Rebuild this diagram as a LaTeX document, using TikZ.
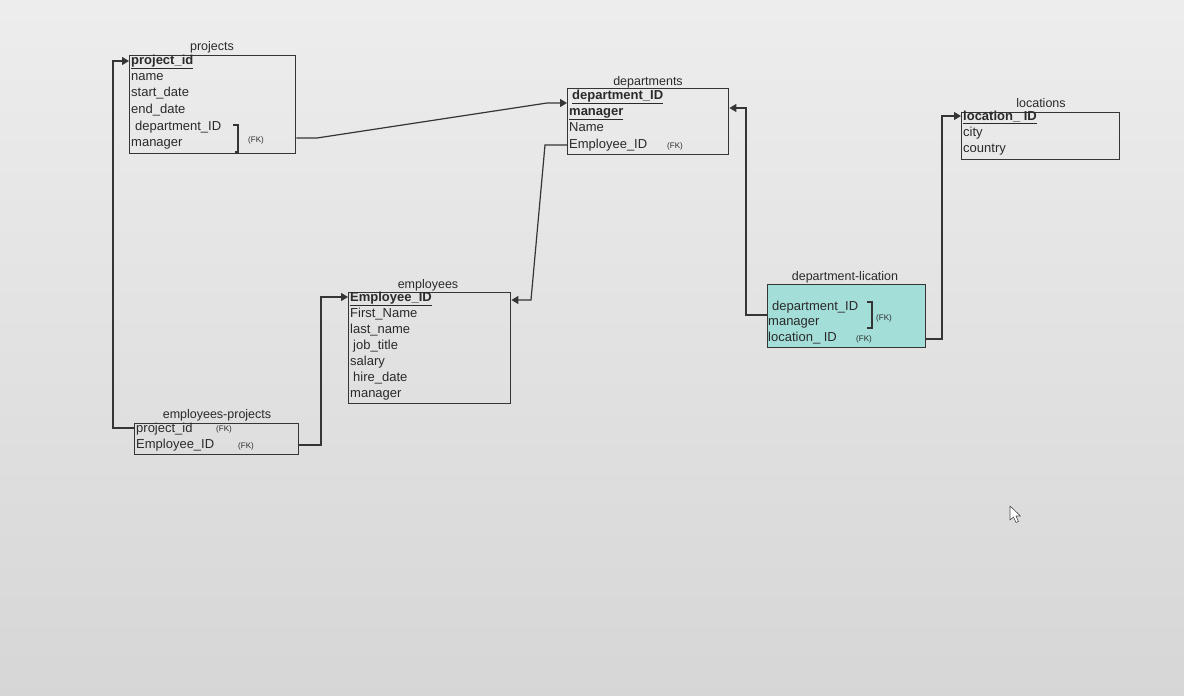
\documentclass[tikz,border=0pt]{standalone}
\usepackage{fontspec}
\setmainfont{Liberation Sans}
\usetikzlibrary{arrows.meta,calc}
\definecolor{ink}{HTML}{2A2A2A}
\definecolor{lineink}{HTML}{353535}
\definecolor{cyanfill}{HTML}{A3DED8}
\tikzset{
  tbl/.style={draw=lineink, line width=1.4pt, anchor=north west, inner sep=0pt},
  ttl/.style={text=ink, inner sep=0pt, font=\fontsize{12.5}{14}\selectfont},
  row/.style={anchor=west, inner sep=0pt, text=ink, text height=9pt, text depth=3pt, font=\fontsize{13}{16}\selectfont},
  fk/.style={anchor=west, inner sep=0pt, text=ink, font=\fontsize{8}{9}\selectfont},
  conn/.style={draw=lineink, line width=1.2pt},
  arr/.style={conn, -{Triangle[length=7pt,width=8pt]}},
  brk/.style={draw=lineink, line width=1.2pt},
}
\newcommand{\pk}[1]{\underline{\textbf{#1}}}
\begin{document}
\begin{tikzpicture}[x=1pt,y=-1pt]
\path[use as bounding box] (0,0) rectangle (1184,696);
\shade[top color=white!93!black, bottom color=white!84!black] (0,0) rectangle (1184,696);

% ---------- projects ----------
\node[tbl, minimum width=166pt, minimum height=98pt] (projects) at (129,55) {};
\node[ttl] (projectsT) at (212,47) {projects};
\node[row] (pPid) at (131,61) {\pk{project\_id}};
\node[row] (pName) at (131,77) {name};
\node[row] (pStart) at (131,93) {start\_date};
\node[row] (pEnd) at (131,110) {end\_date};
\node[row] (pDept) at (135,127) {department\_ID};
\node[row] (pMgr) at (131,143) {manager};
\draw[brk] (233,125) -- (238,125) -- (238,152) -- (235,152);
\node[fk] (pFK) at (248,140) {(FK)};

% ---------- departments ----------
\node[tbl, minimum width=161pt, minimum height=66pt] (departments) at (567,88) {};
\node[ttl] (departmentsT) at (648,82) {departments};
\node[row] (dId) at (572,96) {\pk{department\_ID}};
\node[row] (dMgr) at (569,112) {\pk{manager}};
\node[row] (dName) at (569,128) {Name};
\node[row] (dEmp) at (569,145) {Employee\_ID};
\node[fk] (dFK) at (667,146) {(FK)};

% ---------- locations ----------
\node[tbl, minimum width=158pt, minimum height=47pt] (locations) at (961,112) {};
\node[ttl] (locationsT) at (1041,103) {locations};
\node[row] (lId) at (963,117) {\pk{location\_ ID}};
\node[row] (lCity) at (963,133) {city};
\node[row] (lCountry) at (963,149) {country};

% ---------- department-lication ----------
\node[tbl, fill=cyanfill, minimum width=158pt, minimum height=63pt] (deploc) at (767,284) {};
\node[ttl] (deplocT) at (845,277) {department-lication};
\node[row] (dlDept) at (772,307) {department\_ID};
\node[row] (dlMgr) at (768,322) {manager};
\node[row] (dlLoc) at (768,338) {location\_ ID};
\draw[brk] (867,302) -- (872,302) -- (872,328) -- (867,328);
\node[fk] (dlFK1) at (876,318) {(FK)};
\node[fk] (dlFK2) at (856,339) {(FK)};

% ---------- employees ----------
\node[tbl, minimum width=162pt, minimum height=111pt] (employees) at (348,292) {};
\node[ttl] (employeesT) at (428,285) {employees};
\node[row] (eId) at (350,298) {\pk{Employee\_ID}};
\node[row] (eFirst) at (350,314) {First\_Name};
\node[row] (eLast) at (350,330) {last\_name};
\node[row] (eJob) at (353,346) {job\_title};
\node[row] (eSal) at (350,362) {salary};
\node[row] (eHire) at (353,378) {hire\_date};
\node[row] (eMgr) at (350,394) {manager};

% ---------- employees-projects ----------
\node[tbl, minimum width=164pt, minimum height=31pt] (ep) at (134,423) {};
\node[ttl] (epT) at (217,415) {employees-projects};
\node[row] (epPid) at (136,429) {project\_id};
\node[fk] (epFK1) at (216,429) {(FK)};
\node[row] (epEmp) at (136,445) {Employee\_ID};
\node[fk] (epFK2) at (238,446) {(FK)};

% ---------- connector bends ----------
\coordinate (b1a) at (113,428);
\coordinate (b1b) at (113,61);
\coordinate (b2a) at (321,445);
\coordinate (b2b) at (321,297);
\coordinate (b3a) at (545,145);
\coordinate (b3b) at (531,300);
\coordinate (b4a) at (317,138);
\coordinate (b4b) at (547,103);
\coordinate (b5a) at (746,315);
\coordinate (b5b) at (746,108);
\coordinate (b6a) at (942,339);
\coordinate (b6b) at (942,116);

% ---------- connectors ----------
\draw[arr] (ep.west |- b1a) -- (b1a) -- (b1b) -- (projects.west |- b1b);
\draw[arr] (ep.east |- b2a) -- (b2a) -- (b2b) -- (employees.west |- b2b);
\draw[arr] (departments.west |- b3a) -- (b3a) -- (b3b) -- (employees.east |- b3b);
\draw[arr] (projects.east |- b4a) -- (b4a) -- (b4b) -- (departments.west |- b4b);
\draw[arr] (deploc.west |- b5a) -- (b5a) -- (b5b) -- (departments.east |- b5b);
\draw[arr] (deploc.east |- b6a) -- (b6a) -- (b6b) -- (locations.west |- b6b);

% ---------- mouse cursor ----------
\draw[fill=white, draw=black!70, line width=0.6pt, line join=round]
  (1010,506) -- (1010,520) -- (1013.5,517) -- (1016,522.5) -- (1018.5,521.5) -- (1016,516) -- (1020.5,516) -- cycle;
\end{tikzpicture}
\end{document}
